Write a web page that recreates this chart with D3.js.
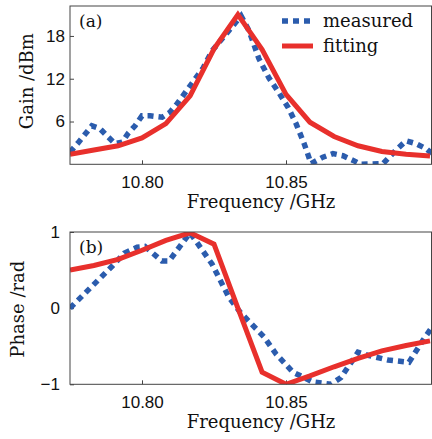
<!DOCTYPE html>
<html>
<head>
<meta charset="utf-8">
<script src="https://cdn.jsdelivr.net/npm/d3@7/dist/d3.min.js"></script>
<style>
  html, body { margin: 0; padding: 0; background: #fff; }
  svg { display: block; font-family: "DejaVu Serif", serif; }
  .tick text { font-size: 17px; fill: #111; }
  .tick line { stroke: #444; }
</style>
</head>
<body>
<div id="chart"></div>
<script>
// frequency axis ticks (GHz)
const freqTicks = [10.80, 10.85];
const gainTicks = [6, 12, 18];
const phaseTicks = [-1, 0, 1];
const seriesNames = ["measured", "fitting"];

// (a) gain, measured
const gainMeasFreq = [10.775, 10.7778, 10.7826, 10.7854, 10.7878, 10.7906, 10.7931, 10.7951, 10.7976, 10.8000,
                      10.8028, 10.8070, 10.8097, 10.8122, 10.8167, 10.8212, 10.8243, 10.8344, 10.8372, 10.8406,
                      10.8441, 10.8476, 10.8507, 10.8535, 10.8563, 10.8587, 10.8628, 10.8663, 10.8698, 10.8733,
                      10.8760, 10.8837, 10.8882, 10.8917, 10.8951, 10.8986, 10.9007];
const gainMeas = [1.7, 3.0, 5.4, 5.0, 4.0, 2.9, 3.1, 4.3, 5.4, 6.8,
                  6.8, 6.6, 7.3, 8.5, 11.0, 13.5, 15.9, 20.8, 18.7, 14.8,
                  12.1, 10.0, 8.0, 5.7, 2.9, 0.1, 1.0, 1.5, 1.2, 0.55,
                  0.0, 0.1, 2.0, 3.3, 2.9, 2.2, 1.5];

// fitting curves share one frequency grid
const fitFreq = [10.775, 10.7833, 10.7917, 10.8000, 10.8083, 10.8167, 10.8250, 10.8333,
                 10.8417, 10.8500, 10.8583, 10.8667, 10.8750, 10.8833, 10.8917, 10.9000];
const gainFit = [1.4, 2.0, 2.6, 3.7, 5.7, 9.6, 16.2, 21.0,
                 16.1, 9.8, 5.9, 3.9, 2.6, 1.8, 1.4, 1.15];
const phaseFit = [0.50, 0.56, 0.64, 0.76, 0.89, 0.99, 0.84, 0.0,
                  -0.84, -1.0, -0.89, -0.77, -0.66, -0.56, -0.49, -0.43];

// (b) phase, measured
const phaseMeasFreq = [10.775, 10.7896, 10.7938, 10.7983, 10.8010, 10.8069, 10.8094, 10.8167, 10.8243, 10.8302,
                       10.8340, 10.8424, 10.8465, 10.8524, 10.8594, 10.8656, 10.8691, 10.8750, 10.8785, 10.8854,
                       10.8927, 10.8976, 10.9007];
const phaseMeas = [0.0, 0.55, 0.72, 0.80, 0.81, 0.62, 0.62, 0.99, 0.58, 0.14,
                   -0.05, -0.38, -0.60, -0.84, -0.97, -1.0, -0.91, -0.58, -0.62, -0.68,
                   -0.71, -0.42, -0.25];

const width = 432;
const height = 439;
const left = 70, right = 431.5;
const blue = "#2b5cad";
const red = "#e8302c";

const svg = d3.select("#chart")
              .append("svg")
              .attr("width", width)
              .attr("height", height);

const xScale = d3.scaleLinear()
                 .domain([10.775, 10.9])
                 .range([left, 430]);

function panel(opts) {
    const yScale = d3.scaleLinear()
                     .domain(opts.yDomain)
                     .range([opts.bottom, opts.top]);

    const clipId = "clip-" + opts.name;
    svg.append("clipPath")
       .attr("id", clipId)
       .append("rect")
       .attr("x", left)
       .attr("y", opts.top)
       .attr("width", right - left)
       .attr("height", opts.bottom - opts.top);

    const xAxis = d3.axisBottom(xScale)
                    .tickValues(freqTicks)
                    .tickFormat(d3.format(".2f"))
                    .tickSizeInner(-4)
                    .tickSizeOuter(0)
                    .tickPadding(12);
    const yAxis = d3.axisLeft(yScale)
                    .tickValues(opts.yTicks)
                    .tickFormat(d3.format("d"))
                    .tickSizeInner(-4)
                    .tickSizeOuter(0)
                    .tickPadding(opts.yPad);

    svg.append("g")
       .attr("transform", "translate(0," + opts.bottom + ")")
       .call(xAxis)
       .call(g => g.select(".domain").remove());
    svg.append("g")
       .attr("transform", "translate(" + left + ",0)")
       .call(yAxis)
       .call(g => g.select(".domain").remove());

    const plot = svg.append("g").attr("clip-path", "url(#" + clipId + ")");

    const line = d3.line()
                   .x(d => xScale(d[0]))
                   .y(d => yScale(d[1]));

    plot.append("path")
        .datum(d3.zip(opts.measFreq, opts.meas))
        .attr("d", line)
        .attr("fill", "none")
        .attr("stroke", blue)
        .attr("stroke-width", 5.5)
        .attr("stroke-dasharray", "6,5");

    plot.append("path")
        .datum(d3.zip(fitFreq, opts.fit))
        .attr("d", line)
        .attr("fill", "none")
        .attr("stroke", red)
        .attr("stroke-width", 5)
        .attr("stroke-linejoin", "miter");

    // frame
    svg.append("rect")
       .attr("x", left)
       .attr("y", opts.top)
       .attr("width", right - left)
       .attr("height", opts.bottom - opts.top)
       .attr("fill", "none")
       .attr("stroke", "#444")
       .attr("stroke-width", 1);

    svg.append("text")
       .attr("x", 79)
       .attr("y", opts.top + 21)
       .attr("font-size", 17)
       .attr("fill", "#111")
       .text(opts.label);

    svg.append("text")
       .attr("x", 261)
       .attr("y", opts.bottom + 44)
       .attr("text-anchor", "middle")
       .attr("font-size", 18)
       .attr("fill", "#111")
       .text("Frequency /GHz");

    svg.append("text")
       .attr("transform", "translate(" + opts.titleX + "," + ((opts.top + opts.bottom) / 2 + opts.titleDy) + ") rotate(-90)")
       .attr("text-anchor", "middle")
       .attr("font-size", 18)
       .attr("fill", "#111")
       .text(opts.yTitle);
}

panel({
    name: "a", top: 6, bottom: 164.3, yDomain: [0, 22.2], yTicks: gainTicks, yPad: 5,
    measFreq: gainMeasFreq, meas: gainMeas, fit: gainFit,
    label: "(a)", yTitle: "Gain /dBm", titleX: 33, titleDy: -4
});

panel({
    name: "b", top: 232, bottom: 384.3, yDomain: [-1, 1], yTicks: phaseTicks, yPad: 10,
    measFreq: phaseMeasFreq, meas: phaseMeas, fit: phaseFit,
    label: "(b)", yTitle: "Phase /rad", titleX: 24, titleDy: 1
});

// legend
const legend = svg.append("g");
seriesNames.forEach((name, i) => {
    const y = 21 + i * 25;
    legend.append("line")
          .attr("x1", 282)
          .attr("x2", 313)
          .attr("y1", y)
          .attr("y2", y)
          .attr("stroke", i === 0 ? blue : red)
          .attr("stroke-width", i === 0 ? 5.5 : 5)
          .attr("stroke-dasharray", i === 0 ? "6,5" : null);
    legend.append("text")
          .attr("x", 323)
          .attr("y", y + 6)
          .attr("font-size", 18)
          .attr("fill", "#111")
          .text(name);
});
</script>
</body>
</html>
